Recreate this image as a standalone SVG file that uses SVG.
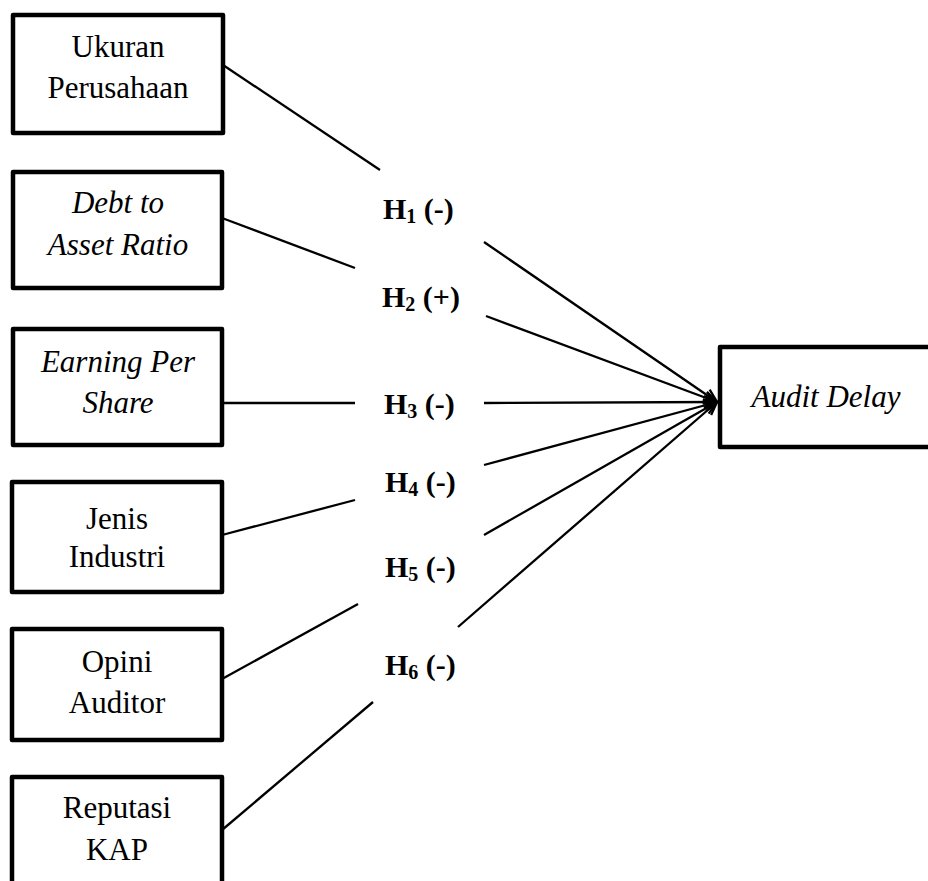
<svg xmlns="http://www.w3.org/2000/svg" width="928" height="881" viewBox="0 0 928 881">
<style>
.box{fill:#fff;stroke:#000;stroke-width:4.5;stroke-linejoin:round}
.t{font-family:"Liberation Serif","Times New Roman",serif;font-size:31px;fill:#000;text-anchor:middle}
.i{font-style:italic}
.h{font-family:"Liberation Serif","Times New Roman",serif;font-size:30px;font-weight:bold;fill:#000}
.c{stroke:#000;stroke-width:2.3;fill:none}
</style>
<defs>
<marker id="arr" markerUnits="userSpaceOnUse" markerWidth="20" markerHeight="20" refX="14" refY="7" orient="auto" viewBox="0 0 20 14">
<path d="M1,1 L14,7 L1,13" fill="none" stroke="#000" stroke-width="2.3"/>
</marker>
</defs>
<rect width="928" height="881" fill="#fff"/>
<g id="connectors">
<line class="c" x1="223" y1="65" x2="380" y2="170"/>
<line class="c" x1="484" y1="242" x2="717" y2="402" marker-end="url(#arr)"/>
<line class="c" x1="222" y1="218" x2="355" y2="268"/>
<line class="c" x1="486" y1="316" x2="717" y2="402" marker-end="url(#arr)"/>
<line class="c" x1="222" y1="403" x2="355" y2="403"/>
<line class="c" x1="484" y1="403" x2="717" y2="402" marker-end="url(#arr)"/>
<line class="c" x1="222" y1="535" x2="355" y2="500"/>
<line class="c" x1="484" y1="465" x2="717" y2="402" marker-end="url(#arr)"/>
<line class="c" x1="222" y1="679" x2="358" y2="604"/>
<line class="c" x1="484" y1="535" x2="717" y2="402" marker-end="url(#arr)"/>
<line class="c" x1="222" y1="830" x2="373" y2="702"/>
<line class="c" x1="458" y1="627" x2="717" y2="402" marker-end="url(#arr)"/>
</g>
<g id="labels">
<text class="h" x="383" y="219">H<tspan font-size="20" dy="4">1</tspan><tspan dy="-4"> (-)</tspan></text>
<text class="h" x="382" y="307">H<tspan font-size="20" dy="4">2</tspan><tspan dy="-4"> (+)</tspan></text>
<text class="h" x="384" y="414">H<tspan font-size="20" dy="4">3</tspan><tspan dy="-4"> (-)</tspan></text>
<text class="h" x="385" y="492">H<tspan font-size="20" dy="4">4</tspan><tspan dy="-4"> (-)</tspan></text>
<text class="h" x="385" y="577">H<tspan font-size="20" dy="4">5</tspan><tspan dy="-4"> (-)</tspan></text>
<text class="h" x="385" y="675">H<tspan font-size="20" dy="4">6</tspan><tspan dy="-4"> (-)</tspan></text>
</g>
<g id="n1"><rect class="box" x="13" y="15" width="210" height="118"/>
<text class="t" x="118" y="57">Ukuran</text><text class="t" x="118" y="98">Perusahaan</text></g>
<g id="n2"><rect class="box" x="13" y="172" width="209" height="116"/>
<text class="t i" x="118" y="213">Debt to</text><text class="t i" x="118" y="255">Asset Ratio</text></g>
<g id="n3"><rect class="box" x="13" y="329" width="209" height="116"/>
<text class="t i" x="118" y="372">Earning Per</text><text class="t i" x="118" y="413">Share</text></g>
<g id="n4"><rect class="box" x="12" y="482" width="210" height="110"/>
<text class="t" x="117" y="529">Jenis</text><text class="t" x="117" y="567">Industri</text></g>
<g id="n5"><rect class="box" x="12" y="629" width="210" height="111"/>
<text class="t" x="117" y="672">Opini</text><text class="t" x="117" y="713">Auditor</text></g>
<g id="n6"><rect class="box" x="12" y="777" width="210" height="130"/>
<text class="t" x="117" y="818">Reputasi</text><text class="t" x="117" y="860">KAP</text></g>
<g id="n7"><rect class="box" x="720" y="347" width="230" height="100"/>
<text class="t i" x="826" y="407">Audit Delay</text></g>
</svg>
